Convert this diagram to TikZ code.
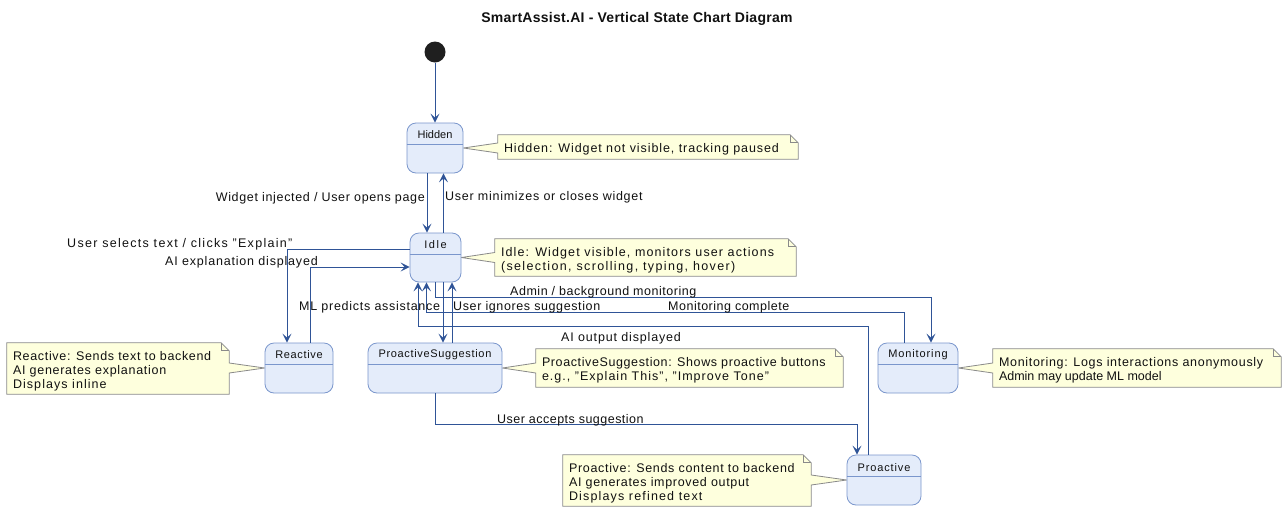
\documentclass[tikz,border=0pt]{standalone}
\usepackage{fontspec}
\setmainfont{Liberation Sans}
\usetikzlibrary{arrows.meta}
\newcommand\LS[2]{{\addfontfeature{LetterSpace=#1}#2}}
\definecolor{stfill}{HTML}{E4ECFA}
\definecolor{stline}{HTML}{7A96CC}
\definecolor{conn}{HTML}{2F5497}
\definecolor{nfill}{HTML}{FEFFDD}
\definecolor{nline}{HTML}{8A8A8A}
\definecolor{txt}{HTML}{111111}
\pgfdeclarelayer{bg}
\pgfsetlayers{bg,main}
\tikzset{
  statebox/.style={draw=stline, fill=stfill, rounded corners=9pt, line width=0.8pt, inner sep=0pt},
  stname/.style={font=\fontsize{11}{13}\selectfont, text=txt, inner sep=0pt},
  divline/.style={draw=stline, line width=0.8pt},
  arr/.style={draw=conn, line width=1pt, -{Stealth[length=9pt,width=9pt,inset=4pt]}},
  lbl/.style={font=\fontsize{12.5}{14}\selectfont, text=txt, inner sep=0pt, text height=9pt, text depth=2.5pt, yshift=-1.5pt},
  notebox/.style={inner sep=0pt},
  notetext/.style={inner xsep=6pt, inner ysep=0pt, align=left, font=\fontsize{12.5}{14}\selectfont, text=txt, yshift=-2.5pt},
  noteline/.style={draw=nline, fill=nfill, line width=0.8pt, line join=miter},
}
% note with tail on its left edge
\newcommand\noteL[2]{%
  \filldraw[noteline] (#1.north west) -- ([xshift=-8pt]#1.north east) -- ([yshift=-8pt]#1.north east)
    -- (#1.south east) -- (#1.south west) -- ([yshift=-5pt]#1.west |- #2) -- (#2)
    -- ([yshift=5pt]#1.west |- #2) -- cycle;
  \draw[draw=nline, line width=0.8pt] ([xshift=-8pt]#1.north east) -- ([xshift=-8pt,yshift=-8pt]#1.north east) -- ([yshift=-8pt]#1.north east);}
% note with tail on its right edge
\newcommand\noteR[2]{%
  \filldraw[noteline] (#1.north west) -- ([xshift=-8pt]#1.north east) -- ([yshift=-8pt]#1.north east)
    -- ([yshift=5pt]#1.east |- #2) -- (#2) -- ([yshift=-5pt]#1.east |- #2)
    -- (#1.south east) -- (#1.south west) -- cycle;
  \draw[draw=nline, line width=0.8pt] ([xshift=-8pt]#1.north east) -- ([xshift=-8pt,yshift=-8pt]#1.north east) -- ([yshift=-8pt]#1.north east);}
\begin{document}
\begin{tikzpicture}[x=1pt, y=-1pt]
\begin{pgfonlayer}{bg}
\fill[white] (0,0) rectangle (1287,512);
\end{pgfonlayer}
\useasboundingbox (0,0) rectangle (1287,512);

% title
\node[font=\bfseries\fontsize{14}{16}\selectfont, text=txt, inner sep=0pt] (title) at (637,19) {\LS{2}{SmartAssist.AI - Vertical State Chart Diagram}};

% states
\node[statebox, minimum width=56pt, minimum height=50pt] (Hidden) at (435,148) {};
\node[statebox, minimum width=51pt, minimum height=49pt] (Idle) at (435.5,257.5) {};
\node[statebox, minimum width=68pt, minimum height=50pt] (Reactive) at (299,368) {};
\node[statebox, minimum width=134pt, minimum height=50pt] (PS) at (435,368) {};
\node[statebox, minimum width=80pt, minimum height=50pt] (Mon) at (918,368) {};
\node[statebox, minimum width=74pt, minimum height=50pt] (Pro) at (884,480) {};

\foreach \s in {Hidden,Idle,Reactive,PS,Mon,Pro}{
  \draw[divline] ([yshift=-22pt]\s.north west) -- ([yshift=-22pt]\s.north east);
}
\node[stname] (tHidden) at ([yshift=-12pt]Hidden.north) {Hidden};
\node[stname] (tIdle) at ([yshift=-12pt]Idle.north) {\LS{14}{Idle}};
\node[stname] (tReactive) at ([yshift=-12pt]Reactive.north) {\LS{6}{Reactive}};
\node[stname] (tPS) at ([yshift=-12pt]PS.north) {\LS{6}{ProactiveSuggestion}};
\node[stname] (tMon) at ([yshift=-12pt]Mon.north) {\LS{8}{Monitoring}};
\node[stname] (tPro) at ([yshift=-13pt]Pro.north) {\LS{8}{Proactive}};

% initial state
\node[circle, fill=black!88, inner sep=0pt, minimum size=21pt] (init) at (435,52) {};

% note boxes
\node[notebox, minimum width=300pt, minimum height=24pt] (nHidden) at (648,147) {};
\node[notebox, minimum width=301pt, minimum height=37pt] (nIdle) at (645.5,257.5) {};
\node[notebox, minimum width=222pt, minimum height=51pt] (nReactive) at (118,368.5) {};
\node[notebox, minimum width=307pt, minimum height=38pt] (nPS) at (689.5,368) {};
\node[notebox, minimum width=288pt, minimum height=38pt] (nMon) at (1137,368) {};
\node[notebox, minimum width=248pt, minimum height=51pt] (nPro) at (687,480.5) {};

\begin{pgfonlayer}{bg}
\noteL{nHidden}{Hidden.east}
\noteL{nIdle}{Idle.east}
\noteR{nReactive}{Reactive.west}
\noteL{nPS}{PS.east}
\noteL{nMon}{Mon.east}
\noteR{nPro}{Pro.west}
\end{pgfonlayer}

% note texts
\node[notetext, anchor=west] (tnHidden) at (nHidden.west)
  {\LS{7.3}{Hidden: Widget not visible, tracking paused}};
\node[notetext, anchor=west] (tnIdle) at (nIdle.west)
  {\LS{9}{Idle: Widget visible, monitors user actions}\\\LS{11}{(selection, scrolling, typing, hover)}};
\node[notetext, anchor=west] (tnReactive) at (nReactive.west)
  {\LS{5.4}{Reactive: Sends text to backend}\\\LS{5.7}{AI generates explanation}\\\LS{8.5}{Displays inline}};
\node[notetext, anchor=west] (tnPS) at (nPS.west)
  {\LS{4.9}{ProactiveSuggestion: Shows proactive buttons}\\\LS{8.2}{e.g., "Explain This", "Improve Tone"}};
\node[notetext, anchor=west] (tnMon) at (nMon.west)
  {\LS{5.6}{Monitoring: Logs interactions anonymously}\\Admin may update ML model};
\node[notetext, anchor=west] (tnPro) at (nPro.west)
  {\LS{5.5}{Proactive: Sends content to backend}\\\LS{5.4}{AI generates improved output}\\\LS{9.3}{Displays refined text}};

% connectors
\draw[arr] (init) -- (Hidden.north);
\draw[arr] ([xshift=-8pt]Hidden.south) -- ([xshift=-8pt]Hidden.south |- Idle.north);
\draw[arr] ([xshift=8pt]Idle.north) -- ([xshift=8pt]Idle.north |- Hidden.south);
\draw[arr] ([yshift=8.5pt]Idle.west) -| ([xshift=-12pt]Reactive.north);
\draw[arr] ([xshift=11pt]Reactive.north) |- ([yshift=-9.5pt]Idle.west);
\draw[arr] ([xshift=7.5pt]Idle.south) -- ([xshift=7.5pt]Idle.south |- PS.north);
\draw[arr] ([xshift=17pt]PS.north) -- ([xshift=17pt]PS.north |- Idle.south);
\draw[arr] (Idle.south) -- ++(0,15) -| ([xshift=13pt]Mon.north);
\draw[arr] ([xshift=-14pt]Mon.north) -- ++(0,-30) -| ([xshift=-9pt]Idle.south);
\draw[arr] ([xshift=-16pt]Pro.north) -- ++(0,-128) -| ([xshift=-17.5pt]Idle.south);
\draw[arr] (PS.south) -- ++(0,31) -| ([xshift=-27pt]Pro.north);

% labels
\node[lbl, anchor=east] (l1) at (425,197) {\LS{5.3}{Widget injected / User opens page}};
\node[lbl, anchor=west] (l2) at (445,196) {\LS{5.8}{User minimizes or closes widget}};
\node[lbl, anchor=west] (l3) at (67,243) {\LS{10.4}{User selects text / clicks "Explain"}};
\node[lbl, anchor=west] (l4) at (165,261) {\LS{6.5}{AI explanation displayed}};
\node[lbl, anchor=west] (l5) at (299,306) {\LS{5.8}{ML predicts assistance}};
\node[lbl, anchor=west] (l6) at (453,306) {\LS{4.9}{User ignores suggestion}};
\node[lbl, anchor=west] (l7) at (510,291) {\LS{4.2}{Admin / background monitoring}};
\node[lbl, anchor=west] (l8) at (668,306) {\LS{4}{Monitoring complete}};
\node[lbl, anchor=west] (l9) at (561,337) {\LS{6.7}{AI output displayed}};
\node[lbl, anchor=west] (l10) at (497,419) {\LS{3.8}{User accepts suggestion}};
\end{tikzpicture}
\end{document}
